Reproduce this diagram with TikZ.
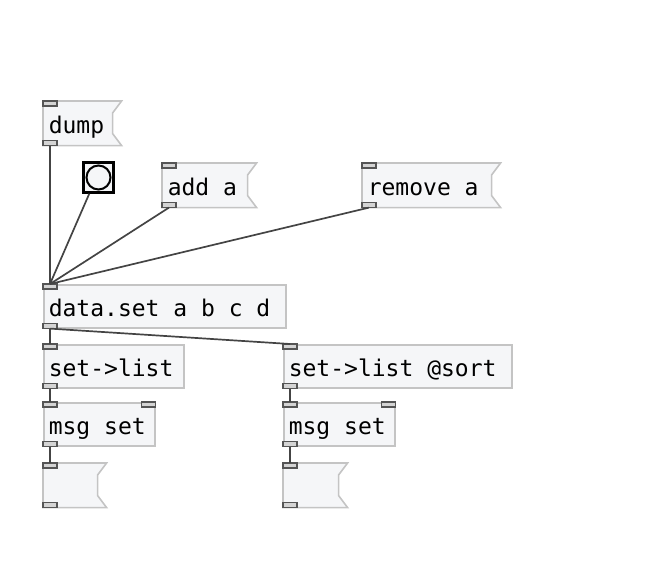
\documentclass[tikz,border=0pt]{standalone}
\usepackage{fontspec}
\newfontfamily\pdfont{DejaVu Sans Mono}
\usetikzlibrary{positioning}
\usetikzlibrary{backgrounds}

\definecolor{boxline}{HTML}{C4C4C4}
\definecolor{boxfill}{HTML}{F5F6F8}
\definecolor{wirecol}{HTML}{444444}
\definecolor{tabline}{HTML}{555555}
\definecolor{tabfill}{HTML}{D4D4D4}

\tikzset{
  pdobj/.style={draw=boxline, fill=boxfill, line width=1.6pt, anchor=north west,
    inner sep=5pt, minimum height=43pt, align=left, text height=23pt, text depth=2pt,
    font=\pdfont\fontsize{23}{28}\selectfont,
    % full-width spaces, as in the patch font
    execute at begin node={\spaceskip=0.602em\xspaceskip=0.602em\relax}},
  pdmsg/.style={pdobj, draw=none, fill=none},
  flag/.style={draw=boxline, fill=boxfill, line width=1.6pt},
  tab/.style={draw=tabline, fill=tabfill, line width=1.3pt},
  wire/.style={draw=wirecol, line width=1.7pt},
  bng/.style={draw=black, fill=boxfill, line width=2.5pt, minimum size=30pt, inner sep=0pt},
}

% message box outline, drawn behind its text
\newcommand\msgflag[1]{%
  \begin{pgfonlayer}{background}
    \draw[flag] (#1.north west) -- ([xshift=9pt]#1.north east) -- ([yshift=-12pt]#1.north east)
      -- ([yshift=12pt]#1.south east) -- ([xshift=9pt]#1.south east) -- (#1.south west) -- cycle;
  \end{pgfonlayer}}
% left inlet and outlet
\newcommand\pdio[1]{%
  \draw[tab] (#1.north west) rectangle ++(14pt,-5pt);
  \draw[tab] (#1.south west) rectangle ++(14pt,5pt);}

\begin{document}
\begin{tikzpicture}[x=1pt,y=-1pt]
\useasboundingbox (0,0) rectangle (646,567);

\node[pdmsg, text width=58pt] (dump) at (43,101) {dump};
\node[bng] (bang) at (98.5,177.5) {};
\draw[line width=2pt] (bang.center) circle (12pt);
\node[pdmsg, text width=74pt] (adda) at (162,163) {add a};
\node[pdmsg, text width=118pt] (removea) at (362,163) {remove a};

\node[pdobj, text width=232pt] (dataset) at (43,284) {data.set a b c d};
\node[pdobj, text width=130pt] (setlist) at (43,344) {set->list};
\node[pdobj, text width=218pt] (setlistsort) at (283,344) {set->list @sort};
\node[pdobj, text width=101pt] (msgsetl) at (43,402) {msg set};
\node[pdobj, text width=101pt] (msgsetr) at (283,402) {msg set};
\node[pdmsg, text width=43pt] (outl) at (43,463) {};
\node[pdmsg, text width=44pt] (outr) at (283,463) {};

\msgflag{dump}
\msgflag{adda}
\msgflag{removea}
\msgflag{outl}
\msgflag{outr}

\pdio{dump}
\pdio{adda}
\pdio{removea}
\pdio{dataset}
\pdio{setlist}
\pdio{setlistsort}
\pdio{msgsetl}
\pdio{msgsetr}
\pdio{outl}
\pdio{outr}
\draw[tab] (msgsetl.north east) rectangle ++(-14pt,-5pt);
\draw[tab] (msgsetr.north east) rectangle ++(-14pt,-5pt);

\draw[wire] ([xshift=7pt]dump.south west) -- ([xshift=7pt]dataset.north west);
\draw[wire] ([xshift=7pt]bang.south west) -- ([xshift=7pt]dataset.north west);
\draw[wire] ([xshift=7pt]adda.south west) -- ([xshift=7pt]dataset.north west);
\draw[wire] ([xshift=7pt]removea.south west) -- ([xshift=7pt]dataset.north west);
\draw[wire] ([xshift=7pt]dataset.south west) -- ([xshift=7pt]setlist.north west);
\draw[wire] ([xshift=7pt]dataset.south west) -- ([xshift=7pt]setlistsort.north west);
\draw[wire] ([xshift=7pt]setlist.south west) -- ([xshift=7pt]msgsetl.north west);
\draw[wire] ([xshift=7pt]setlistsort.south west) -- ([xshift=7pt]msgsetr.north west);
\draw[wire] ([xshift=7pt]msgsetl.south west) -- ([xshift=7pt]outl.north west);
\draw[wire] ([xshift=7pt]msgsetr.south west) -- ([xshift=7pt]outr.north west);
\end{tikzpicture}
\end{document}
